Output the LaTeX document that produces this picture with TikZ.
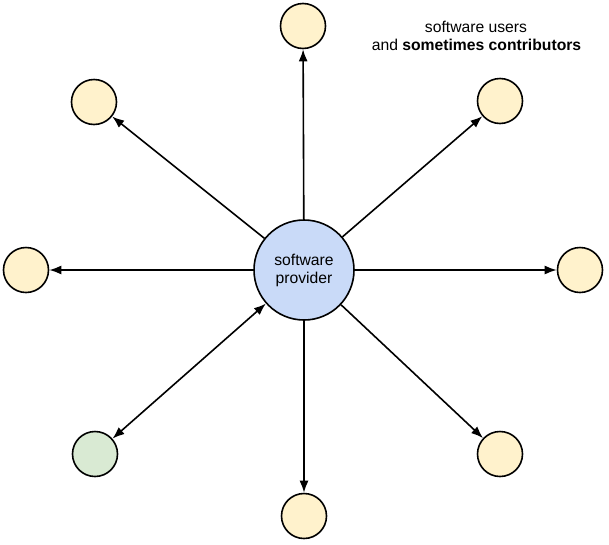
\documentclass[tikz,border=0pt]{standalone}
\usepackage{fontspec}
\setmainfont{Liberation Sans}
\usetikzlibrary{arrows.meta}
\definecolor{userfill}{HTML}{FFF2CC}
\definecolor{contribfill}{HTML}{D9EAD3}
\definecolor{providerfill}{HTML}{C9DAF8}
\tikzset{
  user/.style={circle, draw, line width=1.6pt, fill=userfill, minimum size=45pt, inner sep=0pt},
  contrib/.style={user, fill=contribfill},
  provider/.style={circle, draw, line width=1.6pt, fill=providerfill, minimum size=100pt,
    inner sep=0pt, align=center, font=\fontsize{15.7}{18}\selectfont},
  label/.style={anchor=base, inner sep=0pt, font=\fontsize{15.7}{19}\selectfont},
}
\begin{document}
\begin{tikzpicture}[x=1pt, y=-1pt, line width=1.6pt, >={Latex[length=12pt,width=9pt]}]
      \useasboundingbox (0,0) rectangle (609,544);
      \draw
        (304,270) node[provider] (p){software\\provider}
        (303,26) node[user] (0){}
        (500,101) node[user] (1){}
        (580,270) node[user] (2){}
        (500,454) node[user] (3){}
        (304,516) node[user] (4){}
        (95,454) node[contrib] (5){}
        (26,270) node[user] (6){}
        (94,102) node[user] (7){};
      \node[label] (users) at (476,32) {software users};
      \node[label] (contributors) at (476.5,50) {and \textbf{sometimes contributors}};
      \begin{scope}[->]
        \draw (p) to (0);
        \draw (p) to (1);
        \draw (p) to (2);
        \draw (p) to (3);
        \draw (p) to (4);
        \draw[<->] (p) to (5);
        \draw (p) to (6);
        \draw (p) to (7);
      \end{scope}
    \end{tikzpicture}
\end{document}
